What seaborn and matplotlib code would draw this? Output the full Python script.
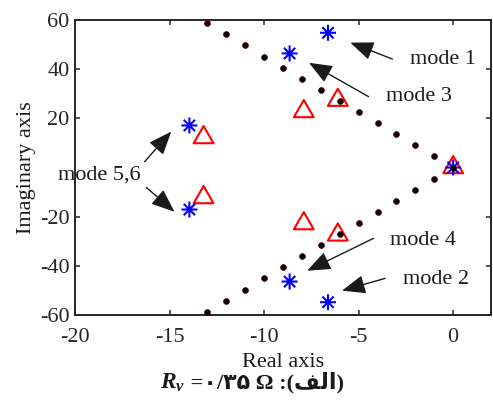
import numpy as np
import matplotlib
matplotlib.use("Agg")
import matplotlib.pyplot as plt
import seaborn as sns
from matplotlib.path import Path
from matplotlib.offsetbox import TextArea, HPacker, AnnotationBbox

# ---- data ----
dot_x = [-13, -12, -11, -10, -9, -8, -7, -6, -5, -4, -3, -2, -1, 0,
         -1, -2, -3, -4, -5, -6, -7, -8, -9, -10, -11, -12, -13]
dot_y = [58.6, 54.2, 49.7, 45.1, 40.6, 36.1, 31.6, 27.2, 22.6, 18.1, 13.6, 9.1, 4.5, 0.0,
         -4.5, -9.1, -13.6, -18.1, -22.6, -27.2, -31.6, -36.1, -40.6, -45.1, -49.7, -54.2, -58.6]

star_x = [-6.62, -8.65, -13.95, -13.95, -8.65, -6.62, 0.0]
star_y = [54.8, 46.4, 17.1, -17.1, -46.4, -54.8, 0.0]

tri_x = [-13.2, -7.9, -6.1, -13.2, -7.9, -6.1, 0.0]
tri_y = [12.2, 22.8, 27.4, -12.2, -22.8, -27.4, 0.0]

x_ticks = [-20, -15, -10, -5, 0]
y_ticks = [-60, -40, -20, 20, 40, 60]

# annotations: (label, text_xy, arrow_tail, arrow_head)
annots = [
    ("mode 1", (-2.28, 44.1), (-3.21, 44.1), (-5.44, 50.8)),
    ("mode 3", (-3.54, 28.8), (-4.47, 28.8), (-7.63, 42.6)),
    ("mode 4", (-3.33, -29.5), (-4.21, -28.8), (-7.72, -42.0)),
    ("mode 2", (-2.63, -45.5), (-3.60, -45.1), (-5.88, -50.1)),
]
mode56_text = ("mode 5,6", (-20.9, -3.0))
mode56_arrows = [((-16.32, 2.35), (-14.91, 14.6)), ((-16.23, -8.1), (-14.74, -18.0))]

# ---- style ----
sns.set_theme(style="ticks")
plt.rcParams["font.family"] = ["Liberation Serif", "DejaVu Sans"]
plt.rcParams["axes.unicode_minus"] = False
plt.rcParams["mathtext.fontset"] = "custom"
plt.rcParams["mathtext.it"] = "Liberation Serif:italic:bold"
plt.rcParams["mathtext.rm"] = "Liberation Serif:bold"
plt.rcParams["mathtext.bf"] = "Liberation Serif:bold"

FS = 16
dark = "#262626"

fig = plt.figure(figsize=(4.93, 4.07), dpi=100)
ax = fig.add_axes([75 / 493, 1 - 315 / 407, 416 / 493, 295 / 407])

# markers
tri_path = Path([(0, 1), (-0.866, -0.5), (0.866, -0.5), (0, 1)],
                [Path.MOVETO, Path.LINETO, Path.LINETO, Path.CLOSEPOLY])
d = 0.7071
star_path = Path([(0, -1), (0, 1), (-1, 0), (1, 0), (-d, -d), (d, d), (-d, d), (d, -d)],
                 [Path.MOVETO, Path.LINETO] * 4)

sns.scatterplot(x=tri_x, y=tri_y, marker=tri_path, s=16.5 ** 2, facecolor="none",
                edgecolor="#ff0000", linewidth=1.5, ax=ax, zorder=3)
sns.scatterplot(x=star_x, y=star_y, marker=star_path, s=11.5 ** 2, facecolor="none",
                edgecolor="#0000ff", linewidth=1.5, ax=ax, zorder=4)
sns.scatterplot(x=dot_x, y=dot_y, marker="o", s=4.2 ** 2, color="#000000",
                edgecolor="#5a0000", linewidth=0.5, ax=ax, zorder=5)

ax.set_xlim(-20, 2)
ax.set_ylim(-60, 60)
ax.set_xticks(x_ticks)
ax.set_yticks(y_ticks)
ax.set_xticklabels([str(v) for v in x_ticks])
ax.set_yticklabels([str(v) for v in y_ticks])

for s in ax.spines.values():
    s.set_linewidth(1.4)
    s.set_color(dark)
ax.tick_params(direction="in", length=3.6, width=1.1, colors=dark, labelsize=FS,
               top=True, right=True)
ax.tick_params(axis="x", pad=9)
ax.tick_params(axis="y", pad=4)
for lab in ax.get_xticklabels() + ax.get_yticklabels():
    lab.set_color(dark)

ax.set_xlabel("Real axis", fontsize=FS, color="k")
ax.set_ylabel("Imaginary axis", fontsize=FS, color="k")
ax.xaxis.set_label_coords(0.5, -0.13)
ax.yaxis.set_label_coords(-0.093, 0.5)

arrowprops = dict(arrowstyle="-|>,head_length=0.8,head_width=0.32", color="k",
                  lw=1.0, shrinkA=0, shrinkB=0, mutation_scale=18)
for lab, txy, tail, head in annots:
    ax.text(txy[0], txy[1], lab, fontsize=FS, ha="left", va="center", color="k")
    ax.annotate("", xy=head, xytext=tail, arrowprops=arrowprops)
ax.text(mode56_text[1][0], mode56_text[1][1], mode56_text[0], fontsize=FS,
        ha="left", va="center", color="k", clip_on=False, zorder=10)
for tail, head in mode56_arrows:
    ax.annotate("", xy=head, xytext=tail, arrowprops=arrowprops)

# caption: R_v = ۰/۳۵ Ω :(الف)
arabic = "\ufed2\ufedf\ufe8d"  # الف in visual order with joined forms
cap1 = TextArea(r"$R_v$", textprops=dict(fontsize=FS + 1, color="k"))
cap2 = TextArea(" =\u06f0/\u06f3\u06f5 \u03a9 :(" + arabic + ")",
                textprops=dict(fontsize=FS, fontweight="bold", color="k",
                               family=["Liberation Serif", "DejaVu Sans"]))
pack = HPacker(children=[cap1, cap2], align="baseline", pad=0, sep=0)
ab = AnnotationBbox(pack, (252 / 493, 1 - 383 / 407), xycoords="figure fraction",
                    box_alignment=(0.5, 0.5), frameon=False)
fig.add_artist(ab)

fig.savefig("out.png", dpi=100)
